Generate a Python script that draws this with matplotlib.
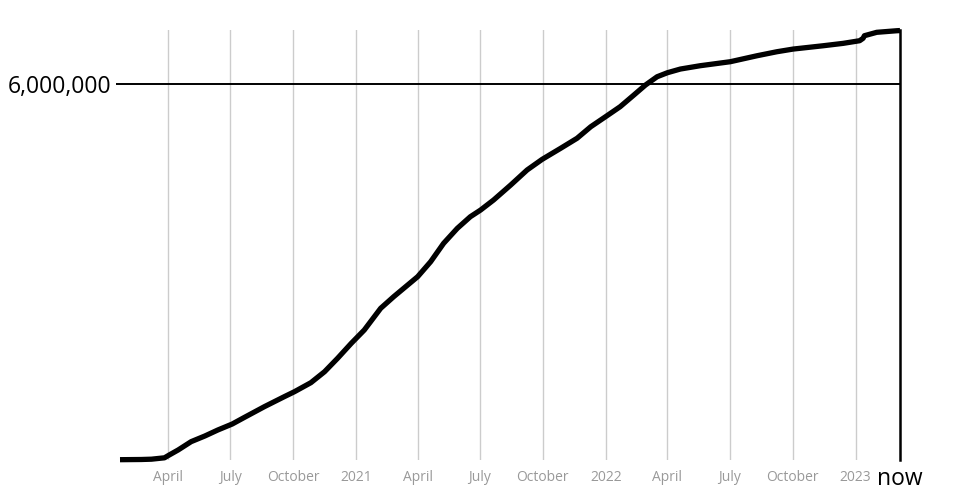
import matplotlib
matplotlib.use("Agg")
import matplotlib.pyplot as plt
import pandas as pd

plt.rcParams['font.family'] = ['Open Sans', 'DejaVu Sans']

# Cumulative series (date, value)
dates = ["2020-01-22", "2020-02-22", "2020-03-08", "2020-03-27", "2020-04-03",
         "2020-04-16", "2020-05-05", "2020-05-25", "2020-06-13", "2020-07-04",
         "2020-07-22", "2020-08-20", "2020-09-18", "2020-10-03", "2020-10-27",
         "2020-11-16", "2020-12-05", "2020-12-25", "2021-01-13", "2021-02-06",
         "2021-02-25", "2021-04-01", "2021-04-20", "2021-05-09", "2021-05-29",
         "2021-06-17", "2021-07-02", "2021-07-21", "2021-08-15", "2021-09-08",
         "2021-09-30", "2021-10-27", "2021-11-20", "2021-12-10", "2022-01-01",
         "2022-01-22", "2022-02-11", "2022-02-28", "2022-03-17", "2022-04-01",
         "2022-04-20", "2022-05-19", "2022-07-02", "2022-08-10", "2022-09-08",
         "2022-10-02", "2022-11-15", "2022-12-14", "2023-01-07", "2023-01-12",
         "2023-01-14", "2023-02-01", "2023-03-02", "2023-03-07"]
values = [5000, 8000, 13000, 35000, 80000,
          160000, 293000, 383000, 479000, 574000,
          681000, 851000, 1010000, 1090000, 1234000,
          1409000, 1623000, 1862000, 2074000, 2421000,
          2606000, 2925000, 3164000, 3458000, 3697000,
          3882000, 3989000, 4149000, 4388000, 4628000,
          4798000, 4974000, 5134000, 5318000, 5481000,
          5638000, 5824000, 5984000, 6116000, 6180000,
          6239000, 6292000, 6356000, 6451000, 6515000,
          6558000, 6611000, 6649000, 6691000, 6729000,
          6771000, 6825000, 6850000, 6853000]

tick_dates = ["2020-04-01", "2020-07-01", "2020-10-01", "2021-01-01",
              "2021-04-01", "2021-07-01", "2021-10-01", "2022-01-01",
              "2022-04-01", "2022-07-01", "2022-10-01", "2023-01-01"]
tick_labels = ["April", "July", "October", "2021", "April", "July", "October",
               "2022", "April", "July", "October", "2023"]
y_ticks = [6000000]
y_tick_labels = ["6,000,000"]
now_date = "2023-03-07"
now_label = "now"

x = pd.to_datetime(dates)
tx = pd.to_datetime(tick_dates)
nx = pd.to_datetime(now_date)

fig = plt.figure(figsize=(9.6, 5.0), dpi=100)
ax = fig.add_axes([120/960, 1 - 460/500, 780/960, 430/500])

for t in tx:
    ax.axvline(t, color='#cccccc', lw=1, zorder=1)
ax.axhline(y_ticks[0], color='black', lw=1.4, zorder=2)
ax.axvline(nx, color='black', lw=1.8, zorder=2, clip_on=False)

ax.plot(x, values, color='black', lw=3.8, solid_capstyle='butt',
        solid_joinstyle='round', zorder=3, clip_on=False)

ax.set_xlim(pd.Timestamp("2020-01-22"), nx)
ax.set_ylim(0, 6862000)

ax.set_xticks(tx)
ax.set_xticklabels(tick_labels, color='#999999', fontsize=10)
ax.tick_params(axis='x', length=0, pad=7)
ax.set_yticks(y_ticks)
ax.set_yticklabels(y_tick_labels, fontsize=16.5, color='black')
ax.tick_params(axis='y', length=3, width=1.4, color='black', pad=3)

ax.text(nx, -0.045, now_label, transform=ax.get_xaxis_transform(),
        ha='center', va='center', fontsize=16.5, color='black')

for s in ax.spines.values():
    s.set_visible(False)

fig.savefig("out.png", dpi=100)
